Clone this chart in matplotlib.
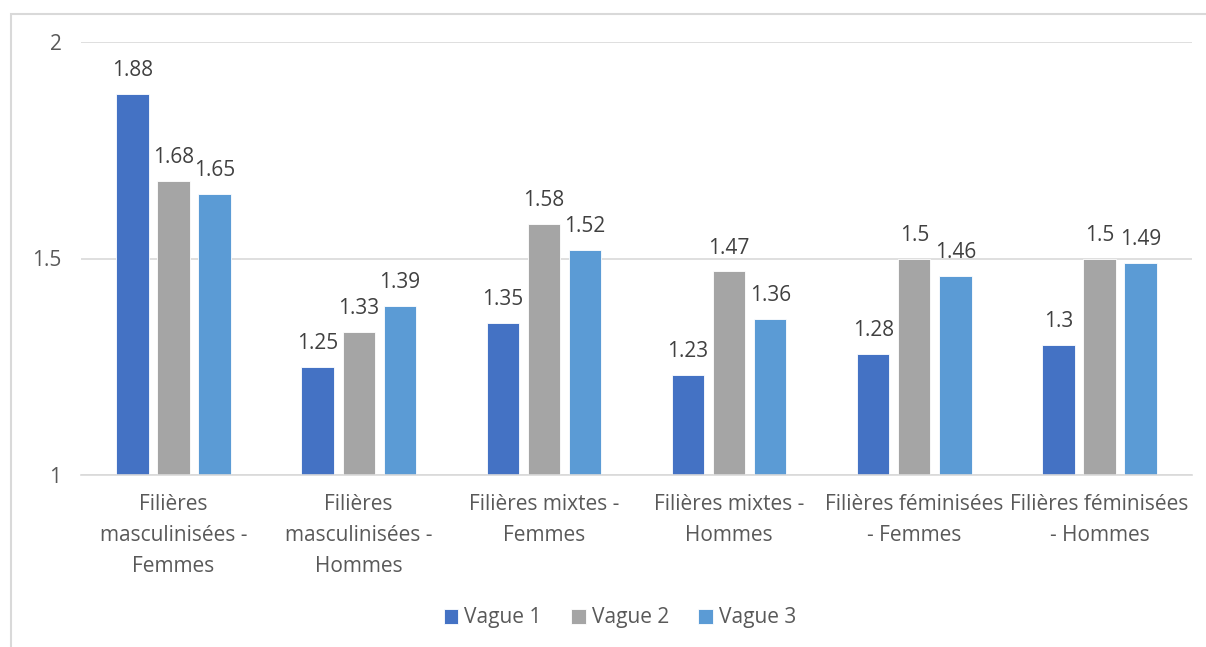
import matplotlib.pyplot as plt
import matplotlib.patches as mpatches
import numpy as np

categories = ['Filières\nmasculinisées -\nFemmes', 'Filières\nmasculinisées -\nHommes',
              'Filières mixtes -\nFemmes', 'Filières mixtes -\nHommes',
              'Filières féminisées\n- Femmes', 'Filières féminisées\n- Hommes']
series = ['Vague 1', 'Vague 2', 'Vague 3']
vague1 = [1.88, 1.25, 1.35, 1.23, 1.28, 1.3]
vague2 = [1.68, 1.33, 1.58, 1.47, 1.5, 1.5]
vague3 = [1.65, 1.39, 1.52, 1.36, 1.46, 1.49]
colors = ['#4472C4', '#A5A5A5', '#5B9BD5']

plt.rcParams['font.family'] = ['Open Sans', 'DejaVu Sans']
txt = '#595959'
fs = 15

fig = plt.figure(figsize=(12.06, 6.47), dpi=100)
# frame around chart
fig.patches.append(mpatches.Rectangle((11 / 1206, -0.01), 1.0, 1 - 14 / 647 + 0.01,
                                      transform=fig.transFigure, fill=False,
                                      edgecolor='#D9D9D9', linewidth=1.5))
ax = fig.add_axes([81 / 1206, 1 - 475 / 647, 1111 / 1206, 433 / 647])

x = np.arange(len(categories))
w = 0.175
step = 0.222
for i, (vals, name) in enumerate(zip([vague1, vague2, vague3], series)):
    bars = ax.bar(x + (i - 1) * step, np.array(vals) - 1, w, bottom=1,
                  color=colors[i], label=name, edgecolor='white', linewidth=0.6)
    for b, v in zip(bars, vals):
        ax.text(b.get_x() + b.get_width() / 2, v + 0.03, f'{v:g}',
                ha='center', va='bottom', fontsize=fs, color='#404040')

ax.set_ylim(1, 2)
ax.set_xlim(-0.5, len(categories) - 0.5)
ax.set_yticks([1, 1.5, 2])
ax.set_yticklabels(['1', '1.5', '2'])
ax.yaxis.grid(True, color='#D9D9D9', linewidth=1.2)
ax.set_axisbelow(True)
for s in ['top', 'right', 'left']:
    ax.spines[s].set_visible(False)
ax.spines['bottom'].set_color('#D9D9D9')
ax.spines['bottom'].set_linewidth(1.2)
ax.tick_params(axis='y', length=0, pad=14, labelsize=fs, labelcolor=txt)
ax.set_xticks(x)
ax.set_xticklabels(categories, fontsize=fs, color=txt, linespacing=1.6)
ax.tick_params(axis='x', length=0, pad=14)

fig.legend(loc='center', bbox_to_anchor=(620 / 1206, 1 - 618 / 647), ncol=3,
           frameon=False, fontsize=fs, labelcolor=txt, handlelength=0.7,
           handleheight=0.7, handletextpad=0.3, columnspacing=1.4)

fig.savefig('out.png', dpi=100)
